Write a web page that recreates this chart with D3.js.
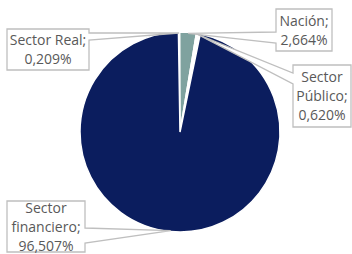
<!DOCTYPE html>
<html>
<head>
<meta charset="utf-8">
<script src="https://cdn.jsdelivr.net/npm/d3@7"></script>
<style>
  body { margin: 0; background: #fff; }
  text { font-family: "Open Sans", sans-serif; font-size: 14px; fill: #595959; }
</style>
</head>
<body>
<div id="chart"></div>
<script>
// data, in drawing order (clockwise from 12 o'clock)
var categories = ["Sector Real", "Nación", "Sector Público", "Sector financiero"];
var values = [0.209, 2.664, 0.620, 96.507];
var valueLabels = ["0,209%", "2,664%", "0,620%", "96,507%"];
var sliceColors = ["#ffffff", "#7fa29f", "#ffffff", "#0b1d5e"];

// callout boxes: [x0, y0, x1, y1], side of tail, tail base (two coords on that side)
var boxes = [
  { box: [7, 29, 89, 70], side: "right", base: [33, 40], lines: ["Sector Real;"] },
  { box: [276, 9, 332, 51], side: "left", base: [32, 43], lines: ["Nación;"] },
  { box: [293, 65, 351, 127], side: "left", base: [73, 84], lines: ["Sector", "Público;"] },
  { box: [7, 201, 85, 252], side: "right", base: [228, 243], lines: ["Sector", "financiero;"] }
];

var width = 352, height = 254;
var cx = 180, cy = 132, r = 100;

var svg = d3.select("#chart").append("svg")
  .attr("width", width)
  .attr("height", height);

var pie = d3.pie().sort(null).startAngle(-0.9 * Math.PI / 180).endAngle(2 * Math.PI - 0.9 * Math.PI / 180);
var arcs = pie(values);
var arc = d3.arc().innerRadius(0).outerRadius(r);
var rim = d3.arc().innerRadius(r - 1).outerRadius(r - 1);

var g = svg.append("g").attr("transform", "translate(" + cx + "," + cy + ")");

g.selectAll(".slice")
  .data(arcs)
  .enter().append("path")
  .attr("class", "slice")
  .attr("d", arc)
  .attr("fill", function (d, i) { return sliceColors[i]; })
  .attr("stroke", "#fff")
  .attr("stroke-width", 1.5);

// callouts with pointer tails
boxes.forEach(function (b, i) {
  var tip = rim.centroid(arcs[i]);
  var tx = tip[0] + cx, ty = tip[1] + cy;
  var x0 = b.box[0], y0 = b.box[1], x1 = b.box[2], y1 = b.box[3];
  var p = d3.path();
  p.moveTo(x0, y0);
  p.lineTo(x1, y0);
  if (b.side === "right") {
    p.lineTo(x1, b.base[0]);
    p.lineTo(tx, ty);
    p.lineTo(x1, b.base[1]);
  }
  p.lineTo(x1, y1);
  p.lineTo(x0, y1);
  if (b.side === "left") {
    p.lineTo(x0, b.base[1]);
    p.lineTo(tx, ty);
    p.lineTo(x0, b.base[0]);
  }
  p.closePath();

  svg.append("path")
    .attr("d", p.toString())
    .attr("fill", "#fff")
    .attr("stroke", "#bfbfbf")
    .attr("stroke-width", 1.3);

  var lines = b.lines.concat([valueLabels[i]]);
  var mid = (x0 + x1) / 2, yc = (y0 + y1) / 2;
  var lh = 19;
  var t = svg.append("text").attr("text-anchor", "middle");
  lines.forEach(function (s, k) {
    t.append("tspan")
      .attr("x", mid)
      .attr("y", yc + (k - (lines.length - 1) / 2) * lh + 5)
      .text(s);
  });
});
</script>
</body>
</html>
